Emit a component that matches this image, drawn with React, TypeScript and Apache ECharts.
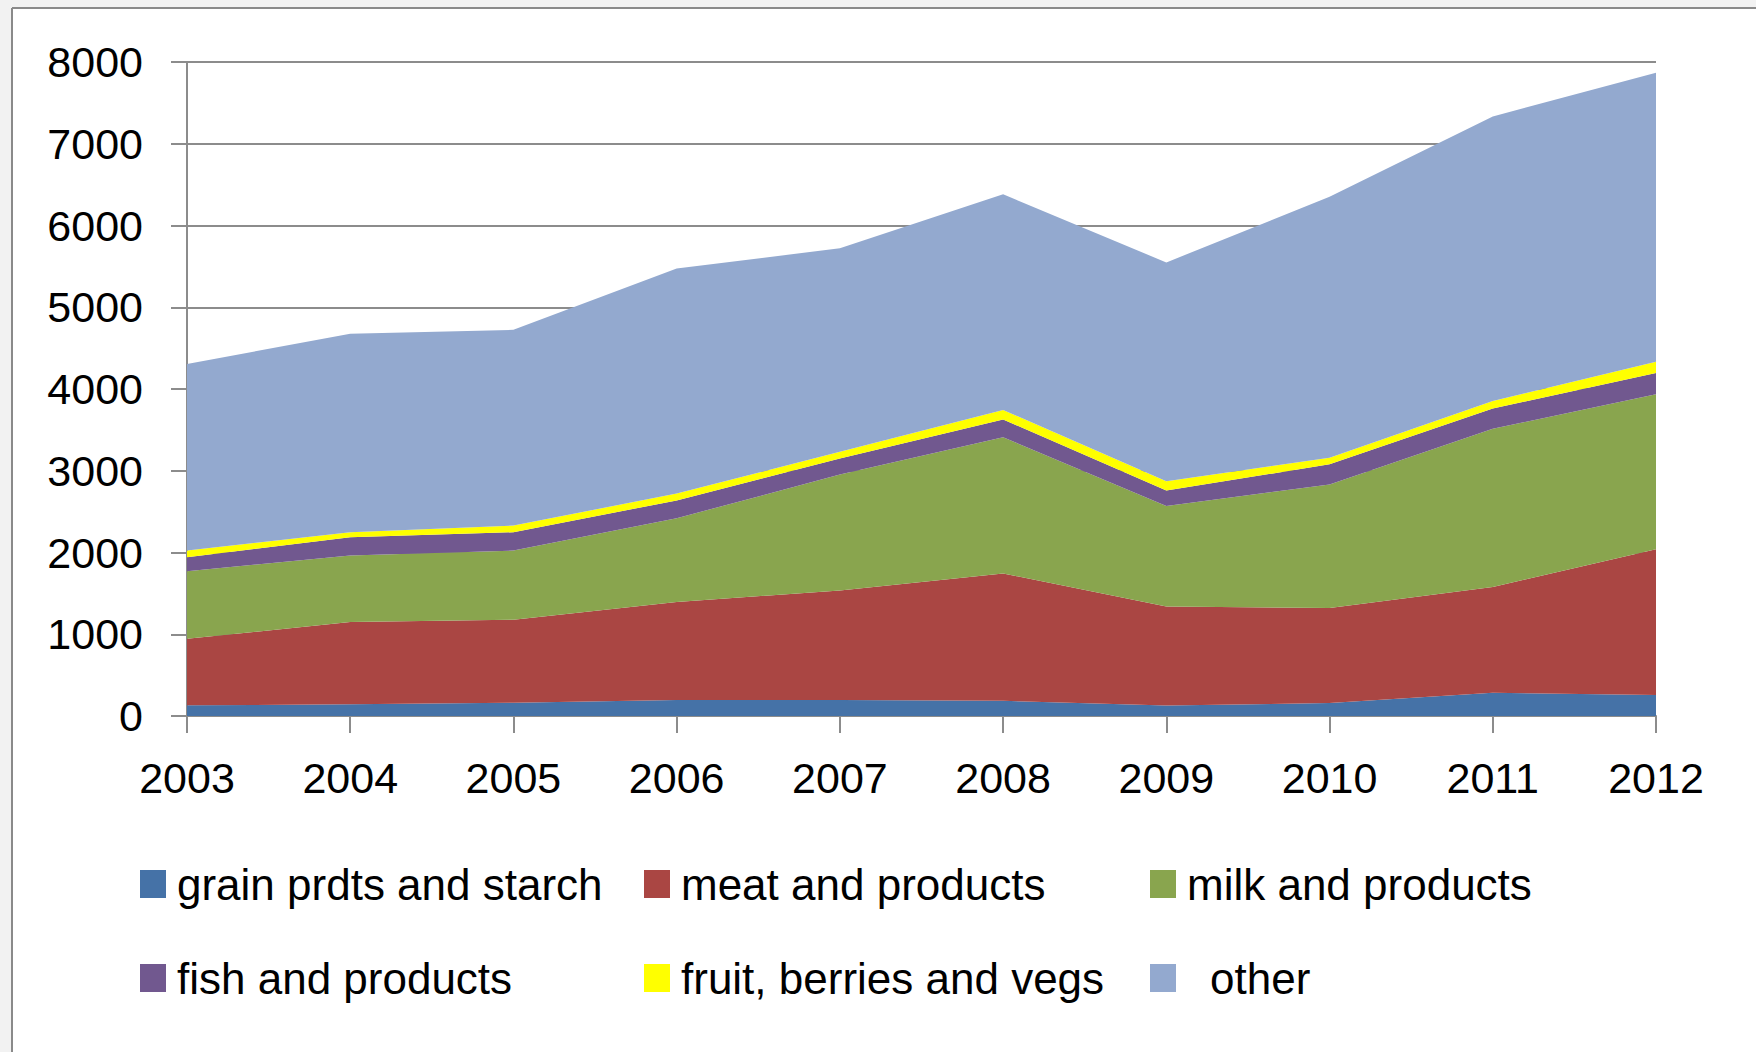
import React, { useEffect, useRef } from "react";
import * as echarts from "echarts";

const years = ["2003", "2004", "2005", "2006", "2007", "2008", "2009", "2010", "2011", "2012"];
const grain = [130, 143, 163, 195, 195, 186, 128, 158, 284, 256];
const meat = [815, 1006, 1014, 1200, 1340, 1558, 1212, 1163, 1293, 1785];
const milk = [827, 814, 847, 1024, 1418, 1665, 1230, 1511, 1937, 1894];
const fish = [171, 224, 224, 218, 196, 219, 188, 246, 246, 261];
const fruit = [81, 61, 82, 84, 84, 116, 115, 82, 93, 137];
const other = [2283, 2427, 2394, 2753, 2488, 2637, 2675, 3192, 3481, 3536];

const seriesNames = [
  "grain prdts and starch",
  "meat and products",
  "milk and products",
  "fish and products",
  "fruit, berries and vegs",
  "other",
];
const seriesData = [grain, meat, milk, fish, fruit, other];
const colors = ["#4572A7", "#AA4643", "#89A54E", "#71588F", "#FFFF00", "#93A9CF"];

const FONT = "'Liberation Sans', Arial, sans-serif";

export default function App() {
  const ref = useRef<HTMLDivElement>(null);
  useEffect(() => {
    document.body.style.margin = "0";
    if (!ref.current) return;
    const chart = echarts.init(ref.current, null, { renderer: "svg" });
    const legendPos = [
      { left: 140, top: 862 },
      { left: 644, top: 862 },
      { left: 1150, top: 862 },
      { left: 140, top: 956 },
      { left: 644, top: 956 },
      { left: 1150, top: 956 },
    ];
    const legends = seriesNames.map((n, i) => ({
      show: true,
      data: [n],
      left: legendPos[i].left,
      top: legendPos[i].top,
      padding: 0,
      icon: "rect",
      itemWidth: 26,
      itemHeight: 28,
      textStyle: {
        fontFamily: FONT,
        fontSize: 44,
        color: "#000",
        padding: [0, 0, 0, n === "other" ? 29 : 6],
      },
      selectedMode: false,
    }));
    chart.setOption({
      animation: false,
      backgroundColor: "#ffffff",
      color: colors,
      graphic: [
        { type: "rect", shape: { x: 0, y: 0, width: 1756, height: 8 }, style: { fill: "#f2f2f2" }, silent: true },
        { type: "rect", shape: { x: 0, y: 0, width: 12, height: 1052 }, style: { fill: "#f2f2f2" }, silent: true },
        { type: "line", shape: { x1: 12, y1: 8, x2: 1756, y2: 8 }, style: { stroke: "#8a8a8a", lineWidth: 2 }, silent: true },
        { type: "line", shape: { x1: 12, y1: 8, x2: 12, y2: 1052 }, style: { stroke: "#8a8a8a", lineWidth: 2 }, silent: true },
      ],
      legend: legends,
      grid: { left: 187, right: 100, top: 62, bottom: 336, containLabel: false },
      xAxis: {
        type: "category",
        data: years,
        boundaryGap: false,
        axisLine: { show: true, lineStyle: { color: "#8c8c8c", width: 2 } },
        axisTick: { show: true, length: 17, lineStyle: { color: "#8c8c8c", width: 2 } },
        axisLabel: { fontFamily: FONT, fontSize: 43, color: "#000", margin: 40 },
        splitLine: { show: false },
      },
      yAxis: {
        type: "value",
        min: 0,
        max: 8000,
        interval: 1000,
        axisLine: { show: true, lineStyle: { color: "#8c8c8c", width: 2 } },
        axisTick: { show: true, length: 16, lineStyle: { color: "#8c8c8c", width: 2 } },
        axisLabel: {
          fontFamily: FONT,
          fontSize: 43,
          color: "#000",
          margin: 44,
          formatter: (v: number) => String(v),
        },
        splitLine: { show: true, lineStyle: { color: "#8c8c8c", width: 2 } },
      },
      series: seriesNames.map((n, i) => ({
        name: n,
        type: "line",
        stack: "total",
        data: seriesData[i],
        symbol: "none",
        showSymbol: false,
        lineStyle: { width: 0 },
        areaStyle: { color: colors[i], opacity: 1 },
        itemStyle: { color: colors[i] },
      })),
    });
    return () => chart.dispose();
  }, []);
  return <div ref={ref} style={{ width: 1756, height: 1052 }} />;
}
